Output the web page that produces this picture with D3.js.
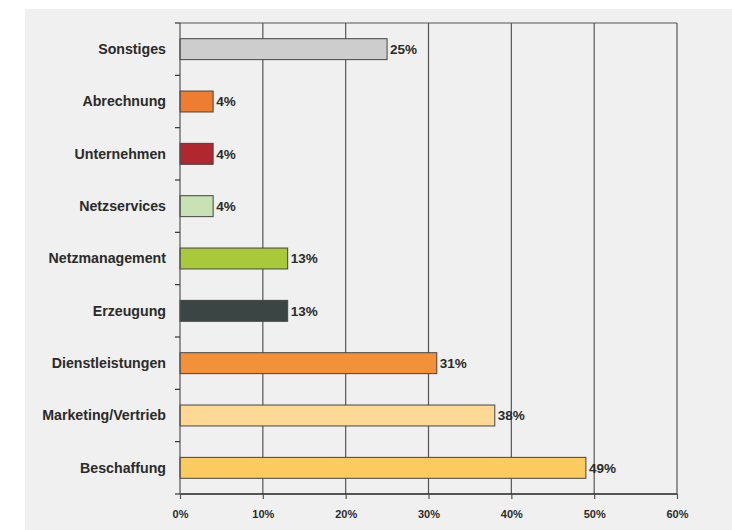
<!DOCTYPE html>
<html lang="de">
<head>
  <meta charset="UTF-8">
  <title>Bereiche</title>
  <script src="https://d3js.org/d3.v7.min.js"></script>
  <style>
    body { margin: 0; padding: 0; background: #fff; }
    svg { display: block; }
    text { font-family: "Liberation Sans", Arial, sans-serif; font-weight: bold; fill: #2b2b2b; }
  </style>
</head>
<body>
  <div id="chart"></div>
  <script>
    const categories = ["Sonstiges", "Abrechnung", "Unternehmen", "Netzservices", "Netzmanagement",
      "Erzeugung", "Dienstleistungen", "Marketing/Vertrieb", "Beschaffung"];
    const values = [25, 4, 4, 4, 13, 13, 31, 38, 49];
    const colors = ["#cdcdcd", "#ef7d31", "#b0272f", "#c9e2b5", "#a9c83a",
      "#3b4543", "#f3903a", "#fdd995", "#fbcb5f"];
    const xTicks = [0, 10, 20, 30, 40, 50, 60];

    const width = 732, height = 530;
    const plotL = 180, plotR = 677, plotT = 23, plotB = 494;

    const svg = d3.select("#chart").append("svg")
      .attr("width", width)
      .attr("height", height);

    // grey panel
    svg.append("rect")
      .attr("x", 25).attr("y", 9)
      .attr("width", width - 25).attr("height", height - 9)
      .attr("fill", "#eff0ef");

    const x = d3.scaleLinear().domain([0, 60]).range([plotL, plotR]);
    const y = d3.scaleBand().domain(categories).range([plotT, plotB]).paddingInner(0.6).paddingOuter(0.3);
    const band = d3.scaleBand().domain(categories).range([plotT, plotB]);

    // gridlines
    svg.append("g")
      .selectAll("line")
      .data(xTicks.slice(1))
      .join("line")
      .attr("x1", d => x(d)).attr("x2", d => x(d))
      .attr("y1", plotT).attr("y2", plotB)
      .attr("stroke", "#555")
      .attr("stroke-width", 1.2);

    svg.append("line")
      .attr("x1", plotL).attr("x2", plotR)
      .attr("y1", plotT).attr("y2", plotT)
      .attr("stroke", "#555")
      .attr("stroke-width", 1.2);

    // bars
    svg.append("g")
      .selectAll("rect")
      .data(values)
      .join("rect")
      .attr("x", x(0))
      .attr("y", (d, i) => y(categories[i]))
      .attr("width", d => x(d) - x(0))
      .attr("height", y.bandwidth())
      .attr("fill", (d, i) => colors[i])
      .attr("stroke", "#444")
      .attr("stroke-width", 1);

    svg.append("g")
      .selectAll("text")
      .data(values)
      .join("text")
      .attr("x", d => x(d) + 3)
      .attr("y", (d, i) => y(categories[i]) + y.bandwidth() / 2)
      .attr("dy", "0.35em")
      .attr("font-size", 13.5)
      .text(d => d + "%");

    // x axis
    const xAxis = svg.append("g")
      .attr("transform", `translate(0,${plotB})`)
      .call(d3.axisBottom(x).tickValues(xTicks).tickFormat(d => d + "%").tickSize(5).tickPadding(11));
    xAxis.select(".domain").attr("stroke", "#222").attr("stroke-width", 1.4)
      .attr("d", `M${plotL},0H${plotR}`);
    xAxis.selectAll(".tick line").attr("stroke", "#555").attr("stroke-width", 1.2);
    xAxis.selectAll(".tick text").attr("font-size", 11).attr("fill", "#2b2b2b")
      .attr("font-family", "Liberation Sans, Arial, sans-serif").attr("font-weight", "bold");

    // y axis
    svg.append("line")
      .attr("x1", plotL).attr("x2", plotL)
      .attr("y1", plotT).attr("y2", plotB)
      .attr("stroke", "#555").attr("stroke-width", 1.2);

    const bounds = categories.map(c => band(c)).concat([plotB]);
    svg.append("g")
      .selectAll("line")
      .data(bounds)
      .join("line")
      .attr("x1", plotL - 5).attr("x2", plotL)
      .attr("y1", d => d).attr("y2", d => d)
      .attr("stroke", "#333").attr("stroke-width", 1.2);

    svg.append("g")
      .selectAll("text")
      .data(categories)
      .join("text")
      .attr("x", 166)
      .attr("y", d => band(d) + band.bandwidth() / 2)
      .attr("dy", "0.35em")
      .attr("text-anchor", "end")
      .attr("font-size", 14.2)
      .text(d => d);
  </script>
</body>
</html>
